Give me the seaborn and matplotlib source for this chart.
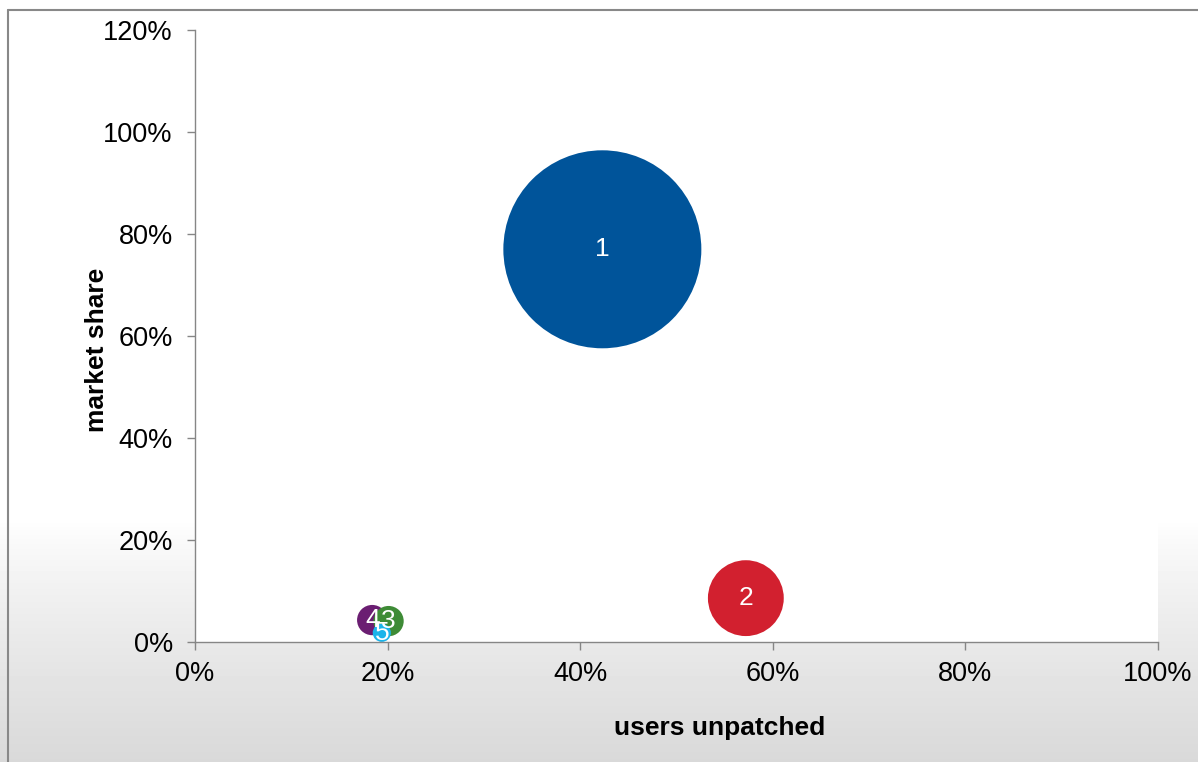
import numpy as np
import pandas as pd
import matplotlib
matplotlib.use("Agg")
import matplotlib.pyplot as plt
import seaborn as sns
from matplotlib.ticker import PercentFormatter
from matplotlib.lines import Line2D

labels = ["1", "2", "4", "3", "5"]
users_unpatched = [0.423, 0.572, 0.184, 0.201, 0.194]
market_share = [0.770, 0.086, 0.043, 0.041, 0.018]
bubble_size = [77.0, 11.3, 1.8, 1.8, 0.65]
colors = ["#00549A", "#D2202F", "#6B1E72", "#3E8B36", "#1BB4EA"]
x_ticks = [0, 0.2, 0.4, 0.6, 0.8, 1.0]
y_ticks = [0, 0.2, 0.4, 0.6, 0.8, 1.0, 1.2]

df = pd.DataFrame({"label": labels, "x": users_unpatched, "y": market_share,
                   "size": bubble_size})

sns.set_theme(style="white")
plt.rcParams["font.family"] = ["Liberation Sans", "DejaVu Sans"]
plt.rcParams["text.color"] = "black"
plt.rcParams["axes.labelcolor"] = "black"

fig = plt.figure(figsize=(11.98, 7.62), dpi=100)

# background gradient
bg = fig.add_axes([0, 0, 1, 1], zorder=-10)
H = 762
grad = np.ones((H, 1))
start = 520
for i in range(H):
    if i > start:
        t = (i - start) / (H - start)
        grad[i, 0] = 1.0 - 0.15 * t ** 0.8
bg.imshow(grad, cmap="gray", vmin=0, vmax=1, aspect="auto", extent=[0, 1, 0, 1])
bg.set_xlim(0, 1)
bg.set_ylim(0, 1)
bg.axis("off")
# border lines (top, left)
fig.add_artist(Line2D([8 / 1198, 8 / 1198], [0, 1 - 10 / 762], transform=fig.transFigure,
                      color="#888888", lw=1.5))
fig.add_artist(Line2D([8 / 1198, 1], [1 - 10 / 762, 1 - 10 / 762], transform=fig.transFigure,
                      color="#888888", lw=1.5))

ax = fig.add_axes([195 / 1198, 1 - 642 / 762, (1158 - 195) / 1198, (642 - 30) / 762])
ax.set_facecolor("white")

r_px = 99
smax = (2 * r_px * 72 / 100) ** 2
sns.scatterplot(data=df, x="x", y="y", size="size", hue="label",
                palette=dict(zip(labels, colors)), sizes=(0, smax),
                size_norm=(0, max(bubble_size)), legend=False, linewidth=0,
                alpha=1, ax=ax, clip_on=False)

for lab, xv, yv in zip(labels, users_unpatched, market_share):
    ax.text(xv, yv, lab, color="white", fontsize=19, ha="center", va="center")

ax.set_xlim(0, 1.0)
ax.set_ylim(0, 1.2)
ax.set_xticks(x_ticks)
ax.set_yticks(y_ticks)
ax.xaxis.set_major_formatter(PercentFormatter(1.0, decimals=0))
ax.yaxis.set_major_formatter(PercentFormatter(1.0, decimals=0))
ax.tick_params(axis="both", which="major", direction="out", length=6, width=1,
               color="#868686", labelsize=19.5, labelcolor="black", bottom=True, left=True)
ax.tick_params(axis="x", pad=8)
ax.tick_params(axis="y", pad=10)
for s in ["top", "right"]:
    ax.spines[s].set_visible(False)
for s in ["left", "bottom"]:
    ax.spines[s].set_color("#868686")
    ax.spines[s].set_linewidth(1)
ax.set_xlabel("users unpatched", fontsize=19, fontweight="bold", color="black")
ax.set_ylabel("market share", fontsize=19, fontweight="bold", color="black")
ax.xaxis.set_label_coords((720 - 195) / 963, (642 - 728) / 612)
ax.xaxis.label.set_va("center")
ax.yaxis.set_label_coords((97 - 195) / 963, (642 - 350) / 612)
ax.yaxis.label.set_va("center")

fig.savefig("out.png", dpi=100)
